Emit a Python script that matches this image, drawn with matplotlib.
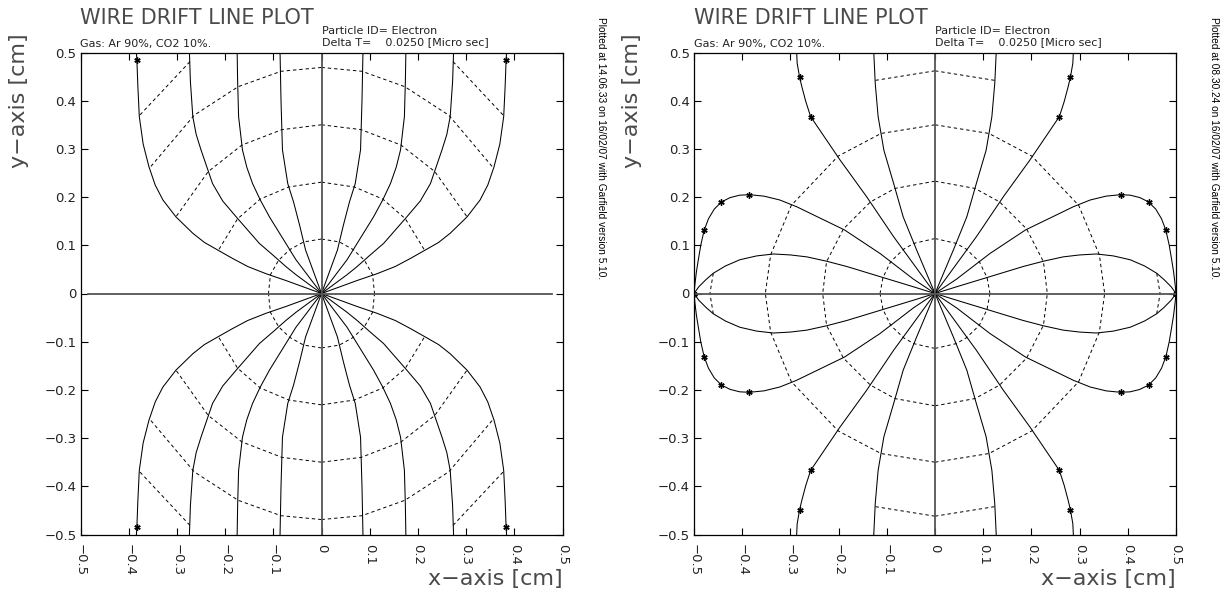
import numpy as np
import matplotlib
matplotlib.use("Agg")
import matplotlib.pyplot as plt

# tick values / labels shared by both plots
tick_vals = [-0.5, -0.4, -0.3, -0.2, -0.1, 0.0, 0.1, 0.2, 0.3, 0.4, 0.5]
tick_labels = ["\u22120.5", "\u22120.4", "\u22120.3", "\u22120.2", "\u22120.1", "0",
               "0.1", "0.2", "0.3", "0.4", "0.5"]

# ---- left plot: drift lines, upper-left quadrant (edge -> wire) ----
left_l1_x = [-0.384, -0.383, -0.381, -0.378, -0.370, -0.358, -0.345, -0.329, -0.302,
             -0.267, -0.243, -0.215, -0.185, -0.153, -0.115, -0.074, 0.0]
left_l1_y = [0.500, 0.484, 0.430, 0.367, 0.310, 0.263, 0.225, 0.194, 0.159,
             0.125, 0.106, 0.090, 0.073, 0.056, 0.041, 0.027, 0.0]
left_l2_x = [-0.274, -0.272, -0.267, -0.260, -0.250, -0.226, -0.205, -0.177, -0.129,
             -0.100, -0.074, -0.053, 0.0]
left_l2_y = [0.500, 0.440, 0.367, 0.330, 0.298, 0.228, 0.192, 0.159, 0.104,
             0.079, 0.056, 0.039, 0.0]
left_l3_x = [-0.175, -0.174, -0.172, -0.164, -0.155, -0.143, -0.127, -0.108, -0.074,
             -0.053, 0.0]
left_l3_y = [0.500, 0.440, 0.367, 0.298, 0.262, 0.228, 0.194, 0.159, 0.104,
             0.070, 0.0]
left_l4_x = [-0.086, -0.084, -0.081, -0.070, -0.058, -0.045, -0.033, 0.0]
left_l4_y = [0.500, 0.400, 0.298, 0.228, 0.190, 0.140, 0.090, 0.0]

# left plot: isochrones (dashed), upper-left quadrant
left_t1_x = [0.0, -0.037, -0.066, -0.089, -0.106, -0.110]
left_t1_y = [0.113, 0.107, 0.091, 0.069, 0.039, 0.0]
left_t2_x = [0.0, -0.068, -0.127, -0.174, -0.215]
left_t2_y = [0.231, 0.221, 0.196, 0.155, 0.088]
left_t3_x = [0.0, -0.082, -0.165, -0.235, -0.302]
left_t3_y = [0.350, 0.340, 0.308, 0.253, 0.159]
left_t4_x = [0.0, -0.084, -0.173, -0.264, -0.357]
left_t4_y = [0.469, 0.461, 0.429, 0.370, 0.260]
left_t5_x = [-0.273, -0.377]
left_t5_y = [0.481, 0.370]

left_star_x = [-0.383]
left_star_y = [0.484]
left_hline_x = [-0.485, 0.478]

# ---- right plot: drift lines, upper-left quadrant ----
right_l1_x = [-0.287, -0.286, -0.281, -0.276, -0.268, -0.258, -0.197, -0.142, -0.086, 0.0]
right_l1_y = [0.500, 0.478, 0.449, 0.428, 0.398, 0.367, 0.277, 0.201, 0.118, 0.0]
right_l2_x = [-0.127, -0.124, -0.118, -0.106, -0.086, -0.066, -0.038, 0.0]
right_l2_y = [0.500, 0.436, 0.367, 0.297, 0.229, 0.159, 0.090, 0.0]
right_l3_x = [-0.500, -0.498, -0.495, -0.491, -0.486, -0.479, -0.470, -0.458, -0.443,
              -0.425, -0.405, -0.385, -0.355, -0.322, -0.287, -0.252, -0.188, -0.114,
              -0.045, 0.0]
right_l3_y = [0.0, 0.020, 0.045, 0.070, 0.100, 0.131, 0.155, 0.175, 0.190,
              0.199, 0.204, 0.205, 0.202, 0.194, 0.180, 0.163, 0.132, 0.083,
              0.030, 0.0]
right_l4_x = [-0.500, -0.490, -0.475, -0.460, -0.435, -0.405, -0.370, -0.335, -0.300,
              -0.266, -0.225, -0.183, -0.114, -0.045, 0.0]
right_l4_y = [0.0, 0.014, 0.029, 0.042, 0.057, 0.070, 0.078, 0.082, 0.080,
              0.076, 0.067, 0.056, 0.035, 0.014, 0.0]

right_t1_x = [0.0, -0.044, -0.065, -0.092, -0.108, -0.114]
right_t1_y = [0.114, 0.104, 0.092, 0.066, 0.033, 0.0]
right_t2_x = [0.0, -0.083, -0.134, -0.190, -0.225, -0.233]
right_t2_y = [0.233, 0.218, 0.190, 0.134, 0.066, 0.0]
right_t3_x = [0.0, -0.112, -0.201, -0.298, -0.341, -0.352]
right_t3_y = [0.350, 0.332, 0.285, 0.183, 0.080, 0.0]
right_t4_x = [0.0, -0.125]
right_t4_y = [0.462, 0.442]
right_t5_x = [-0.460, -0.467]
right_t5_y = [0.042, 0.0]

right_star_x = [-0.281, -0.258, -0.479, -0.443, -0.385, -0.500]
right_star_y = [0.449, 0.367, 0.131, 0.190, 0.204, 0.0]
right_hline_x = [-0.5, 0.5]

plot_times = ["14.06.33", "08.30.24"]

W, H = 1225, 597
fig = plt.figure(figsize=(W / 100, H / 100), dpi=100)
plt.rcParams['font.family'] = ['DejaVu Sans']

solid = dict(color='black', lw=0.75, solid_joinstyle='round')
dashed = dict(color='black', lw=0.7, linestyle=(0, (3.5, 3.0)))


def quad_plot(ax, xs, ys, **kw):
    # the cell is symmetric in x and y, draw each quadrant
    xs = np.asarray(xs)
    ys = np.asarray(ys)
    for sx in (1, -1):
        for sy in (1, -1):
            ax.plot(sx * xs, sy * ys, **kw)


def make_panel(x0, lines, times, stars, hline, stamp):
    left = x0 / W
    ax = fig.add_axes([left, (H - 534.5) / H, 482 / W, 482 / H])
    ax.set_xlim(-0.5, 0.5)
    ax.set_ylim(-0.5, 0.5)

    for lx, ly in lines:
        quad_plot(ax, lx, ly, **solid)
    for tx, ty in times:
        quad_plot(ax, tx, ty, **dashed)
    quad_plot(ax, stars[0], stars[1], linestyle='none', marker=(6, 2, 0),
              ms=4.5, mew=1.0, color='black')

    ax.plot([0, 0], [-0.5, 0.5], color='#555', lw=1.3)
    ax.plot(hline, [0, 0], color='#555', lw=1.3)

    ax.set_xticks(tick_vals)
    ax.set_xticklabels(tick_labels, rotation=-90, ha='center', va='top')
    ax.set_yticks(tick_vals)
    ax.set_yticklabels(tick_labels)
    ax.tick_params(direction='in', length=5, width=0.8, top=True, right=True,
                   labelsize=9.5, colors='black', labelcolor='#222')
    ax.tick_params(axis='x', pad=7)
    ax.tick_params(axis='y', pad=3)
    for s in ax.spines.values():
        s.set_linewidth(0.9)

    fig.text(left, 1 - 23.5 / H, "WIRE DRIFT LINE PLOT", fontsize=15,
             color='#4a4a4a', va='baseline', ha='left')
    fig.text(left, 1 - 46.5 / H, "Gas: Ar 90%, CO2 10%.", fontsize=8,
             color='#222', va='baseline', ha='left')
    fig.text((x0 + 241) / W, 1 - 34.5 / H, "Particle ID= Electron", fontsize=8,
             color='#222', va='baseline', ha='left')
    fig.text((x0 + 241) / W, 1 - 45 / H, "Delta T=    0.0250 [Micro sec]",
             fontsize=8, color='#222', va='baseline', ha='left')
    fig.text((x0 - 61.5) / W, 1 - 33 / H, "y\u2212axis [cm]", fontsize=16,
             color='#4a4a4a', rotation=90, ha='center', va='top')
    fig.text((x0 + 482) / W, 1 - 579 / H, "x\u2212axis [cm]", fontsize=16,
             color='#4a4a4a', ha='right', va='center')
    fig.text((x0 + 520) / W, 1 - 17 / H,
             "Plotted at %s on 16/02/07 with Garfield version 5.10." % stamp,
             family='Liberation Sans', fontsize=7.3, rotation=-90,
             ha='center', va='top')
    return ax


make_panel(80.5,
           [(left_l1_x, left_l1_y), (left_l2_x, left_l2_y),
            (left_l3_x, left_l3_y), (left_l4_x, left_l4_y)],
           [(left_t1_x, left_t1_y), (left_t2_x, left_t2_y), (left_t3_x, left_t3_y),
            (left_t4_x, left_t4_y), (left_t5_x, left_t5_y)],
           (left_star_x, left_star_y), left_hline_x, plot_times[0])

make_panel(694,
           [(right_l1_x, right_l1_y), (right_l2_x, right_l2_y),
            (right_l3_x, right_l3_y), (right_l4_x, right_l4_y)],
           [(right_t1_x, right_t1_y), (right_t2_x, right_t2_y), (right_t3_x, right_t3_y),
            (right_t4_x, right_t4_y), (right_t5_x, right_t5_y)],
           (right_star_x, right_star_y), right_hline_x, plot_times[1])

fig.savefig("out.png", dpi=100)
